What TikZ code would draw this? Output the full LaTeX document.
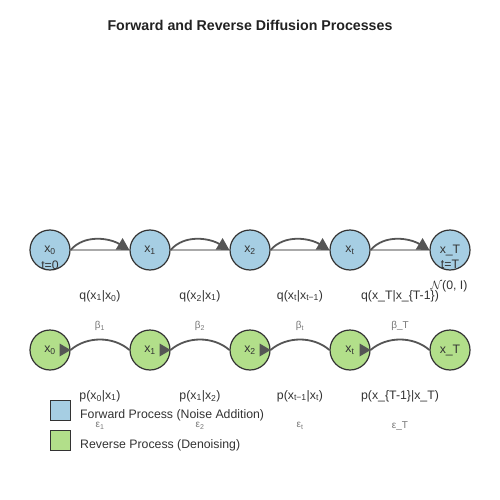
\documentclass[tikz,border=0pt]{standalone}
\usepackage{fontspec}
\setmainfont{Liberation Sans}
\usetikzlibrary{arrows.meta}
\definecolor{fwdfill}{HTML}{A6CEE3}
\definecolor{revfill}{HTML}{B2DF8A}
\definecolor{edgec}{HTML}{333333}
\definecolor{arrc}{HTML}{555555}
\definecolor{linec}{HTML}{AAAAAA}
\definecolor{smallc}{HTML}{777777}
\definecolor{titlec}{HTML}{222222}
\newcommand{\sbs}[1]{\textsubscript{#1}}
\begin{document}
\begin{tikzpicture}[x=1pt,y=-1pt,
  statenode/.style={circle, draw=edgec, line width=1.2pt, minimum size=40pt, inner sep=0pt,
    font=\fontsize{12.3}{14}\selectfont, text=edgec},
  fwdnode/.style={statenode, fill=fwdfill},
  revnode/.style={statenode, fill=revfill},
  lbl/.style={font=\fontsize{12.3}{14}\selectfont, text=edgec, inner sep=0pt},
  smalllbl/.style={font=\fontsize{10}{12}\selectfont, text=smallc, inner sep=0pt},
  straightline/.style={draw=linec, line width=2pt},
  fwdarrow/.style={draw=arrc, line width=1.8pt, -{Triangle[length=12pt,width=13pt]}},
  revcurve/.style={draw=arrc, line width=1.8pt},
  legbox/.style={draw=edgec, line width=1pt, minimum size=20pt, inner sep=0pt},
]
\useasboundingbox (0,0) rectangle (500,500);
\fill[white] (0,0) rectangle (500,500);

\node[font=\bfseries\fontsize{14.2}{16}\selectfont, text=titlec] (title) at (250,25) {Forward and Reverse Diffusion Processes};

% forward row
\node[fwdnode] (f0) at (50,250) {x\sbs{0}};
\node[fwdnode] (f1) at (150,250) {x\sbs{1}};
\node[fwdnode] (f2) at (250,250) {x\sbs{2}};
\node[fwdnode] (f3) at (350,250) {x\sbs{t}};
\node[fwdnode] (f4) at (450,250) {x\_T};

\foreach \a/\b in {f0/f1,f1/f2,f2/f3,f3/f4}{
  \draw[straightline] (\a) -- (\b);
  \draw[fwdarrow] (\a.east) .. controls +(14,-16) and +(-20,-12) .. (\b.west);
}

\node[lbl] (t0) at (50,265) {t=0};
\node[lbl] (tT) at (450,264) {t=T};
\node[lbl] (noise) at (449,286) {$\mathcal{N}$(0, I)};

\node[lbl] (q1) at (100,296) {q(x\sbs{1}|x\sbs{0})};
\node[lbl] (q2) at (200,296) {q(x\sbs{2}|x\sbs{1})};
\node[lbl] (q3) at (300,296) {q(x\sbs{t}|x\sbs{t−1})};
\node[lbl] (q4) at (400,296) {q(x\_T|x\_\{T-1\})};

% reverse row
\node[revnode] (r0) at (50,350) {x\sbs{0}};
\node[revnode] (r1) at (150,350) {x\sbs{1}};
\node[revnode] (r2) at (250,350) {x\sbs{2}};
\node[revnode] (r3) at (350,350) {x\sbs{t}};
\node[revnode] (r4) at (450,350) {x\_T};

\foreach \a/\b in {r0/r1,r1/r2,r2/r3,r3/r4}{
  \draw[revcurve] (\a.east) .. controls +(16,-14) and +(-16,-14) .. (\b.west);
  \fill[arrc] (\a.east) -- ++(-11,-6.5) -- ++(0,13) -- cycle;
}

\node[smalllbl] (b1) at (100,326) {β\sbs{1}};
\node[smalllbl] (b2) at (200,326) {β\sbs{2}};
\node[smalllbl] (b3) at (300,326) {β\sbs{t}};
\node[smalllbl] (b4) at (400,326) {β\_T};

\node[lbl] (p1) at (100,396) {p(x\sbs{0}|x\sbs{1})};
\node[lbl] (p2) at (200,396) {p(x\sbs{1}|x\sbs{2})};
\node[lbl] (p3) at (300,396) {p(x\sbs{t−1}|x\sbs{t})};
\node[lbl] (p4) at (400,396) {p(x\_\{T-1\}|x\_T)};

\node[smalllbl] (e1) at (100,426) {ε\sbs{1}};
\node[smalllbl] (e2) at (200,426) {ε\sbs{2}};
\node[smalllbl] (e3) at (300,426) {ε\sbs{t}};
\node[smalllbl] (e4) at (400,426) {ε\_T};

% legend
\node[legbox, fill=fwdfill] (lf) at (60,410) {};
\node[legbox, fill=revfill] (lr) at (60,440) {};
\node[lbl, anchor=west] (lft) at (80,415) {Forward Process (Noise Addition)};
\node[lbl, anchor=west] (lrt) at (80,445) {Reverse Process (Denoising)};
\end{tikzpicture}
\end{document}
